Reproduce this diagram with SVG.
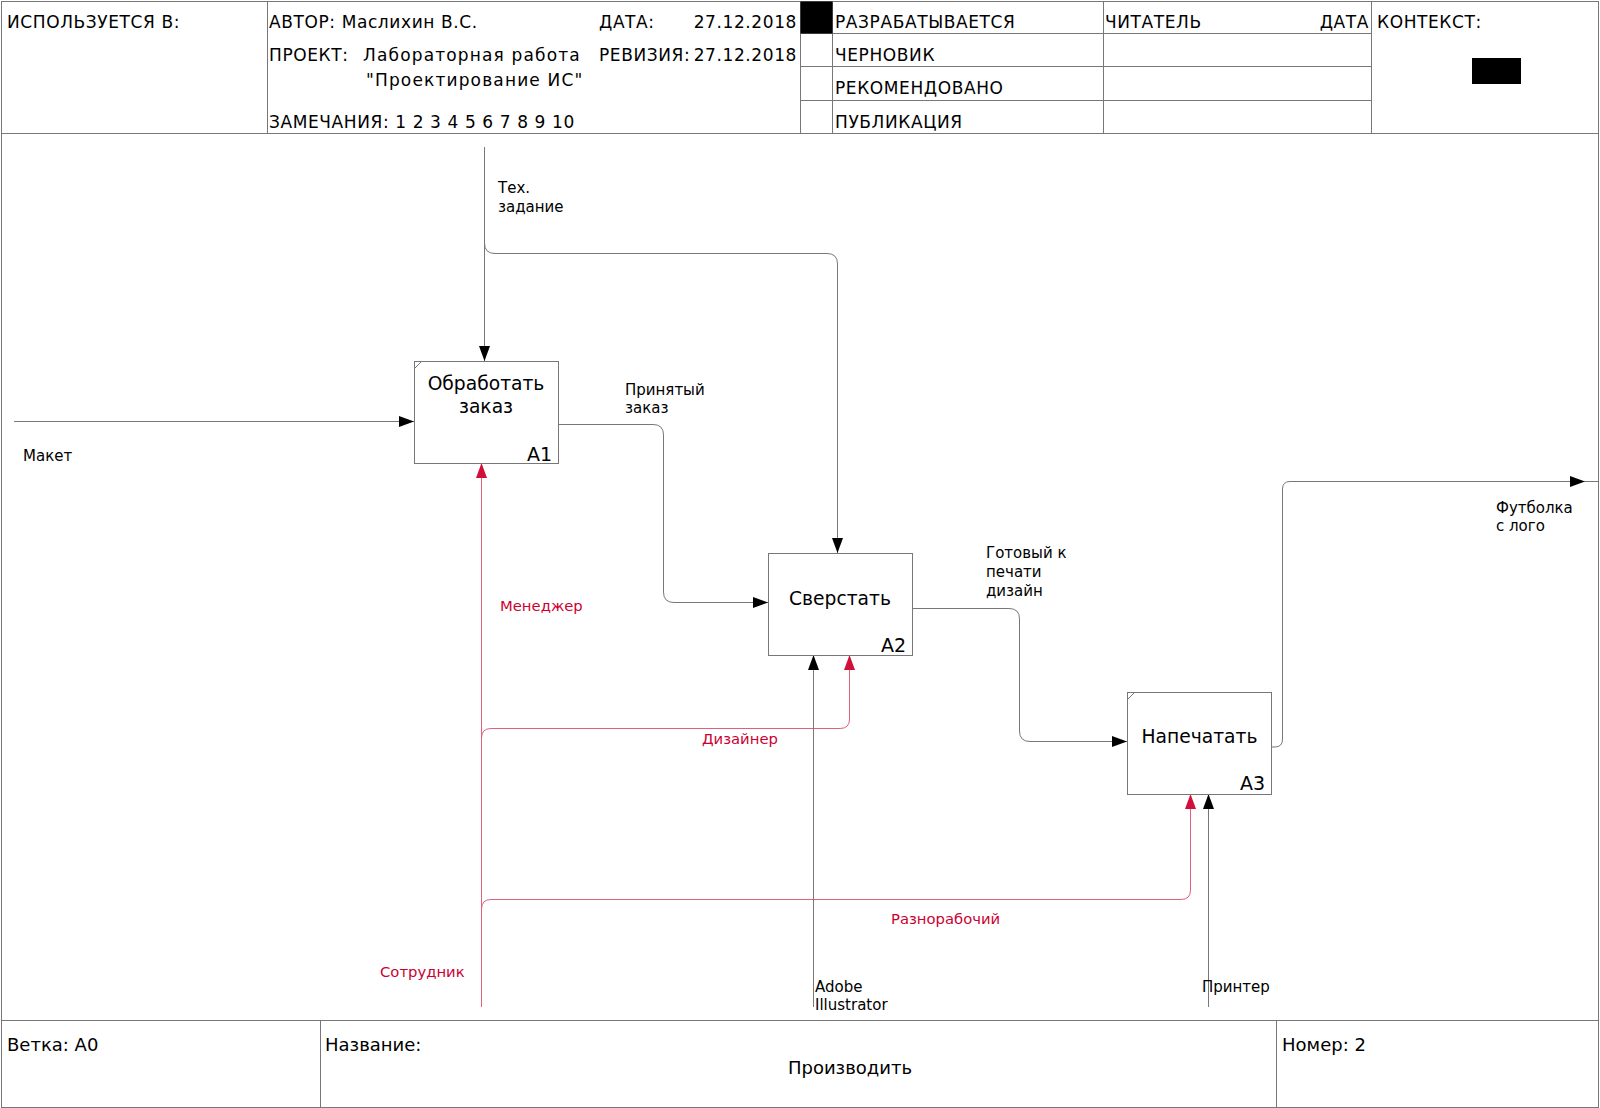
<svg xmlns="http://www.w3.org/2000/svg" width="1600" height="1108" viewBox="0 0 1600 1108">
<defs>
<style>
.frame{fill:none;stroke:#777;stroke-width:1}
.hdr{font-family:"DejaVu Sans",sans-serif;font-size:17px;letter-spacing:0.6px;fill:#000}
.wide{letter-spacing:1.15px}
.ftr{font-family:"DejaVu Sans",sans-serif;font-size:18px;fill:#000}
.box{fill:#fff;stroke:#777;stroke-width:1}
.tick{stroke:#777;stroke-width:1}
.bt{font-family:"DejaVu Sans",sans-serif;font-size:18.7px;fill:#000;text-anchor:middle}
.num{font-family:"DejaVu Sans",sans-serif;font-size:19px;fill:#000;text-anchor:end}
.lbl{font-family:"DejaVu Sans",sans-serif;font-size:15px;fill:#000}
.rlbl{font-family:"DejaVu Sans",sans-serif;font-size:14.8px;fill:#cc0033}
.c{fill:none;stroke:#777;stroke-width:1}
.r{fill:none;stroke:#e0607e;stroke-width:1}
</style>
<marker id="ab" markerWidth="15" markerHeight="11" refX="15" refY="5.5" orient="auto" markerUnits="userSpaceOnUse"><path d="M0,0 L15,5.5 L0,11 z" fill="#000"/></marker>
<marker id="ar" markerWidth="15" markerHeight="11" refX="15" refY="5.5" orient="auto" markerUnits="userSpaceOnUse"><path d="M0,0 L15,5.5 L0,11 z" fill="#d0103a"/></marker>
</defs>
<rect x="0" y="0" width="1600" height="1108" fill="#fff"/>

<g id="frame">
<rect class="frame" x="1.5" y="1.5" width="1597" height="1106"/>
<line class="frame" x1="1.5" y1="133.5" x2="1598.5" y2="133.5"/>
<line class="frame" x1="267.5" y1="1.5" x2="267.5" y2="133.5"/>
<line class="frame" x1="800.5" y1="1.5" x2="800.5" y2="133.5"/>
<line class="frame" x1="832.5" y1="1.5" x2="832.5" y2="133.5"/>
<line class="frame" x1="1103.5" y1="1.5" x2="1103.5" y2="133.5"/>
<line class="frame" x1="1371.5" y1="1.5" x2="1371.5" y2="133.5"/>
<line class="frame" x1="800.5" y1="33.5" x2="1371.5" y2="33.5"/>
<line class="frame" x1="800.5" y1="66.5" x2="1371.5" y2="66.5"/>
<line class="frame" x1="800.5" y1="100.5" x2="1371.5" y2="100.5"/>
<rect x="800.5" y="1.5" width="32" height="32" fill="#000"/>
<rect x="1472" y="58" width="49" height="26" fill="#000"/>
<line class="frame" x1="1.5" y1="1020.5" x2="1598.5" y2="1020.5"/>
<line class="frame" x1="320.5" y1="1020.5" x2="320.5" y2="1107.5"/>
<line class="frame" x1="1276.5" y1="1020.5" x2="1276.5" y2="1107.5"/>
<text class="hdr" x="7" y="28">ИСПОЛЬЗУЕТСЯ В:</text>
<text class="hdr" x="269" y="28">АВТОР: Маслихин В.С.</text>
<text class="hdr" x="599" y="28">ДАТА:</text>
<text class="hdr" x="797" y="28" text-anchor="end">27.12.2018</text>
<text class="hdr" x="269" y="61">ПРОЕКТ:</text>
<text class="hdr wide" x="363" y="61">Лабораторная работа</text>
<text class="hdr wide" x="366" y="86">"Проектирование ИС"</text>
<text class="hdr" x="599" y="61">РЕВИЗИЯ:</text>
<text class="hdr" x="797" y="61" text-anchor="end">27.12.2018</text>
<text class="hdr" x="269" y="128">ЗАМЕЧАНИЯ: 1 2 3 4 5 6 7 8 9 10</text>
<text class="hdr" x="835" y="28">РАЗРАБАТЫВАЕТСЯ</text>
<text class="hdr" x="835" y="61">ЧЕРНОВИК</text>
<text class="hdr" x="835" y="94">РЕКОМЕНДОВАНО</text>
<text class="hdr" x="835" y="128">ПУБЛИКАЦИЯ</text>
<text class="hdr" x="1105" y="28">ЧИТАТЕЛЬ</text>
<text class="hdr" x="1369" y="28" text-anchor="end">ДАТА</text>
<text class="hdr" x="1377" y="28">КОНТЕКСТ:</text>
<text class="ftr" x="7" y="1051">Ветка: А0</text>
<text class="ftr" x="325" y="1051">Название:</text>
<text class="ftr" x="850" y="1074" text-anchor="middle">Производить</text>
<text class="ftr" x="1282" y="1051">Номер: 2</text>
</g>

<g id="connectors">
<path class="c" d="M484.5,147 V361" marker-end="url(#ab)"/>
<path class="c" d="M484.5,243 Q484.5,253.5 495,253.5 H827 Q837.5,253.5 837.5,264 V553" marker-end="url(#ab)"/>
<path class="c" d="M14,421.5 H414" marker-end="url(#ab)"/>
<path class="c" d="M558,424.5 H653 Q663.5,424.5 663.5,435 V592 Q663.5,602.5 674,602.5 H768" marker-end="url(#ab)"/>
<path class="c" d="M912,608.5 H1009 Q1019.5,608.5 1019.5,619 V731 Q1019.5,741.5 1030,741.5 H1127" marker-end="url(#ab)"/>
<path class="c" d="M1271,747 H1275 Q1282.5,747 1282.5,739 V489 Q1282.5,481.5 1290,481.5 H1598"/>
<path d="M1570,476 L1585,481.5 L1570,487 z" fill="#000"/>
<path class="r" d="M481.5,1007 V463" marker-end="url(#ar)"/>
<path class="r" d="M481.5,738 Q481.5,728.5 491,728.5 H840 Q849.5,728.5 849.5,719 V655" marker-end="url(#ar)"/>
<path class="r" d="M481.5,909 Q481.5,899.5 491,899.5 H1181 Q1190.5,899.5 1190.5,890 V794" marker-end="url(#ar)"/>
<path class="c" d="M813.5,1007 V655" marker-end="url(#ab)"/>
<path class="c" d="M1208.5,1007 V794" marker-end="url(#ab)"/>
<text class="lbl" x="498" y="193">Тех.</text>
<text class="lbl" x="498" y="212">задание</text>
<text class="lbl" x="23" y="461">Макет</text>
<text class="lbl" x="625" y="395">Принятый</text>
<text class="lbl" x="625" y="413">заказ</text>
<text class="lbl" x="986" y="558">Готовый к</text>
<text class="lbl" x="986" y="577">печати</text>
<text class="lbl" x="986" y="596">дизайн</text>
<text class="lbl" x="1496" y="513">Футболка</text>
<text class="lbl" x="1496" y="531">с лого</text>
<text class="rlbl" x="500" y="611">Менеджер</text>
<text class="rlbl" x="702" y="744">Дизайнер</text>
<text class="rlbl" x="891" y="924">Разнорабочий</text>
<text class="rlbl" x="380" y="977">Сотрудник</text>
<text class="lbl" x="815" y="992">Adobe</text>
<text class="lbl" x="815" y="1010">Illustrator</text>
<text class="lbl" x="1202" y="992">Принтер</text>
</g>

<g id="A1">
<rect class="box" x="414.5" y="361.5" width="144" height="102"/>
<line class="tick" x1="414.5" y1="368.5" x2="421.5" y2="361.5"/>
<text class="bt" x="486" y="390">Обработать</text>
<text class="bt" x="486" y="413">заказ</text>
<text class="num" x="552" y="461">A1</text>
</g>
<g id="A2">
<rect class="box" x="768.5" y="553.5" width="144" height="102"/>
<text class="bt" x="840" y="605">Сверстать</text>
<text class="num" x="906" y="652">A2</text>
</g>
<g id="A3">
<rect class="box" x="1127.5" y="692.5" width="144" height="102"/>
<line class="tick" x1="1127.5" y1="699.5" x2="1134.5" y2="692.5"/>
<text class="bt" x="1199.5" y="743">Напечатать</text>
<text class="num" x="1265" y="790">A3</text>
</g>
</svg>
